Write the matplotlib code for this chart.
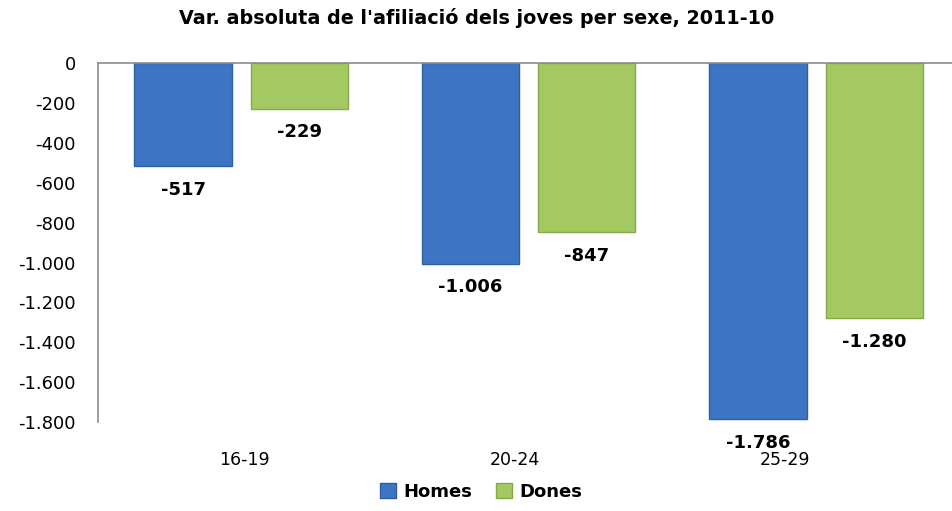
import numpy as np
import matplotlib.pyplot as plt
from matplotlib.transforms import blended_transform_factory

# data
groups = ['16-19', '20-24', '25-29']
homes = [-517, -1006, -1786]
dones = [-229, -847, -1280]
yticks = [0, -200, -400, -600, -800, -1000, -1200, -1400, -1600, -1800]

def fmt(v):
    # Catalan thousands separator
    return f'{v:,}'.replace(',', '.')

fig = plt.figure(figsize=(9.53, 5.11), dpi=100)
ax = fig.add_axes([0.1028, 0.174, 0.905, 0.7025])

x = np.arange(len(groups))
w = 0.338
blue = '#3D75C4'
green = '#A5C962'

b1 = ax.bar(x - 0.204, homes, w, color=blue, edgecolor='#2F5E9E', linewidth=1.0, label='Homes')
b2 = ax.bar(x + 0.2, dones, w, color=green, edgecolor='#86A84C', linewidth=1.0, label='Dones')

for bars, vals in [(b1, homes), (b2, dones)]:
    for rect, v in zip(bars, vals):
        ax.annotate(fmt(v), (rect.get_x() + rect.get_width() / 2, v),
                    xytext=(0, -17), textcoords='offset points',
                    ha='center', va='center', fontsize=13, fontweight='bold')

ax.set_ylim(-1800, 0)
ax.set_xlim(-0.5, 2.5)
ax.set_yticks(yticks)
ax.set_yticklabels([fmt(v) for v in yticks], fontsize=13)
ax.tick_params(axis='y', length=0, pad=16)
ax.set_xticks([])

for s in ['bottom', 'right']:
    ax.spines[s].set_visible(False)
for s in ['left', 'top']:
    ax.spines[s].set_color('#8C8C8C')
    ax.spines[s].set_linewidth(1.2)

# category labels below the plot area
tr = blended_transform_factory(ax.transData, ax.transAxes)
for i, g in enumerate(groups):
    ax.text(i * 0.94 + 0.01, -0.106, g, transform=tr, ha='center', va='center', fontsize=12.5)

fig.suptitle("Var. absoluta de l'afiliació dels joves per sexe, 2011-10",
             x=0.5, y=0.985, fontsize=13.8, fontweight='bold')

leg = fig.legend(handles=[b1, b2], loc='center', bbox_to_anchor=(0.505, 0.037), ncol=2,
                 frameon=False, prop={'weight': 'bold', 'size': 13},
                 handlelength=0.9, handleheight=0.9, handletextpad=0.4, columnspacing=1.3)

fig.savefig('out.png', dpi=100)
